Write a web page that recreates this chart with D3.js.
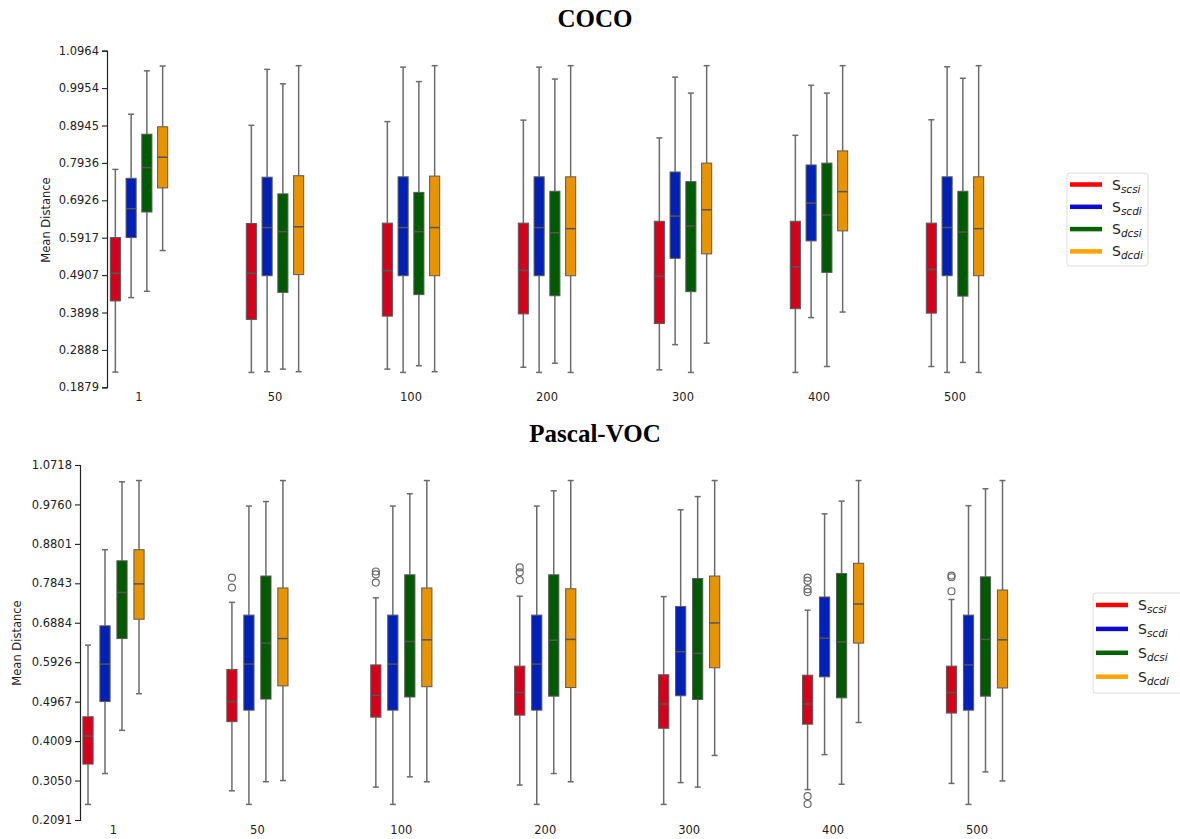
<!DOCTYPE html>
<html>
<head>
<meta charset="utf-8">
<script src="https://cdn.jsdelivr.net/npm/d3@7"></script>
<style>
  body { margin: 0; background: #fff; }
  svg { display: block; }
</style>
</head>
<body>
<div id="chart"></div>
<script>
// categories and series
const categories = ["1", "50", "100", "200", "300", "400", "500"];
const series = ["scsi", "scdi", "dcsi", "dcdi"];

// tick labels
const cocoTicks = [0.1879, 0.2888, 0.3898, 0.4907, 0.5917, 0.6926, 0.7936, 0.8945, 0.9954, 1.0964];
const vocTicks = [0.2091, 0.3050, 0.4009, 0.4967, 0.5926, 0.6884, 0.7843, 0.8801, 0.9760, 1.0718];

// box stats per category: [whisker low, q1, median, q3, whisker high]
const cocoScsi = [
  [0.229, 0.421, 0.496, 0.592, 0.776],
  [0.228, 0.371, 0.496, 0.630, 0.895],
  [0.237, 0.380, 0.502, 0.631, 0.905],
  [0.242, 0.386, 0.504, 0.631, 0.909],
  [0.235, 0.360, 0.488, 0.636, 0.861],
  [0.228, 0.400, 0.513, 0.636, 0.868],
  [0.244, 0.388, 0.505, 0.631, 0.910]
];
const cocoScdi = [
  [0.430, 0.592, 0.670, 0.752, 0.925],
  [0.230, 0.489, 0.619, 0.755, 1.046],
  [0.228, 0.489, 0.619, 0.756, 1.052],
  [0.228, 0.489, 0.619, 0.756, 1.052],
  [0.303, 0.536, 0.650, 0.769, 1.025],
  [0.376, 0.583, 0.685, 0.788, 1.003],
  [0.228, 0.489, 0.619, 0.756, 1.053]
];
const cocoDcsi = [
  [0.447, 0.661, 0.781, 0.871, 1.042],
  [0.237, 0.444, 0.608, 0.710, 1.007],
  [0.246, 0.438, 0.608, 0.714, 1.013],
  [0.253, 0.435, 0.605, 0.717, 1.020],
  [0.228, 0.446, 0.623, 0.743, 0.982],
  [0.244, 0.498, 0.653, 0.793, 0.982],
  [0.255, 0.434, 0.607, 0.717, 1.022]
];
const cocoDcdi = [
  [0.557, 0.726, 0.809, 0.891, 1.055],
  [0.230, 0.492, 0.621, 0.759, 1.056],
  [0.230, 0.489, 0.619, 0.758, 1.056],
  [0.228, 0.489, 0.616, 0.756, 1.056],
  [0.307, 0.548, 0.667, 0.793, 1.056],
  [0.391, 0.610, 0.716, 0.826, 1.056],
  [0.228, 0.489, 0.616, 0.756, 1.056]
];

const vocScsi = [
  [0.247, 0.345, 0.413, 0.460, 0.634],
  [0.280, 0.448, 0.497, 0.575, 0.738],
  [0.289, 0.459, 0.512, 0.586, 0.749],
  [0.294, 0.464, 0.519, 0.583, 0.753],
  [0.247, 0.432, 0.491, 0.562, 0.752],
  [0.283, 0.442, 0.491, 0.561, 0.719],
  [0.298, 0.469, 0.519, 0.583, 0.745]
];
const vocScdi = [
  [0.322, 0.497, 0.588, 0.681, 0.866],
  [0.247, 0.476, 0.588, 0.707, 0.972],
  [0.247, 0.476, 0.588, 0.707, 0.972],
  [0.247, 0.476, 0.588, 0.707, 0.972],
  [0.300, 0.511, 0.618, 0.728, 0.963],
  [0.368, 0.557, 0.651, 0.751, 0.953],
  [0.247, 0.476, 0.586, 0.707, 0.973]
];
const vocDcsi = [
  [0.427, 0.650, 0.762, 0.839, 1.031],
  [0.302, 0.503, 0.639, 0.802, 0.983],
  [0.314, 0.508, 0.643, 0.805, 1.002],
  [0.322, 0.510, 0.646, 0.805, 1.009],
  [0.289, 0.502, 0.614, 0.796, 0.995],
  [0.296, 0.506, 0.642, 0.808, 0.984],
  [0.326, 0.510, 0.648, 0.800, 1.014]
];
const vocDcdi = [
  [0.516, 0.697, 0.783, 0.866, 1.034],
  [0.305, 0.535, 0.650, 0.773, 1.034],
  [0.302, 0.533, 0.647, 0.773, 1.034],
  [0.302, 0.531, 0.648, 0.771, 1.034],
  [0.366, 0.579, 0.688, 0.802, 1.034],
  [0.446, 0.639, 0.734, 0.833, 1.034],
  [0.304, 0.530, 0.647, 0.768, 1.034]
];

// outliers: [category, series, value]
const vocOutliers = [
  ["50", "scsi", 0.798], ["50", "scsi", 0.774],
  ["100", "scsi", 0.813], ["100", "scsi", 0.806], ["100", "scsi", 0.786],
  ["200", "scsi", 0.823], ["200", "scsi", 0.811], ["200", "scsi", 0.792],
  ["400", "scsi", 0.798], ["400", "scsi", 0.790], ["400", "scsi", 0.770], ["400", "scsi", 0.763],
  ["400", "scsi", 0.267], ["400", "scsi", 0.248],
  ["500", "scsi", 0.803], ["500", "scsi", 0.799], ["500", "scsi", 0.765]
];

const boxColor = { scsi: "#d7001a", scdi: "#0020b8", dcsi: "#005a00", dcdi: "#e89400" };
const legendColor = { scsi: "#ff0000", scdi: "#0a0ad0", dcsi: "#006400", dcdi: "#ffa500" };

const width = 1180;
const height = 839;

const svg = d3.select("#chart")
  .append("svg")
  .attr("width", width)
  .attr("height", height)
  .style("font-family", "'DejaVu Sans', sans-serif");

function drawPanel(p) {
  const g = svg.append("g");
  const statsBySeries = { scsi: p.scsi, scdi: p.scdi, dcsi: p.dcsi, dcdi: p.dcdi };

  // title
  g.append("text")
    .attr("x", 595)
    .attr("y", p.titleY)
    .attr("text-anchor", "middle")
    .attr("font-family", "'Liberation Serif', 'Times New Roman', serif")
    .attr("font-weight", "bold")
    .attr("font-size", 25)
    .text(p.title);

  const y = d3.scaleLinear()
    .domain([p.ticks[0], p.ticks[p.ticks.length - 1]])
    .range([p.yBottom, p.yTop]);

  const x = d3.scalePoint()
    .domain(categories)
    .range([p.xFirst, p.xLast]);

  const hue = d3.scaleBand()
    .domain(series)
    .range([-p.dodge, p.dodge])
    .paddingInner(p.pad);

  // y axis
  const yAxis = g.append("g")
    .attr("transform", `translate(${p.axisX},0)`)
    .call(d3.axisLeft(y)
      .tickValues(p.ticks)
      .tickFormat(d3.format(".4f"))
      .tickSize(5)
      .tickPadding(3));
  yAxis.select(".domain").attr("stroke", "#222").attr("stroke-width", 1.2);
  yAxis.selectAll(".tick line").attr("stroke", "#222").attr("stroke-width", 1.1);
  yAxis.selectAll(".tick text")
    .attr("font-size", 11.5)
    .attr("fill", "#222")
    .attr("font-family", "'DejaVu Sans', sans-serif");

  g.append("text")
    .attr("transform", `translate(${p.labelX},${p.labelY}) rotate(-90)`)
    .attr("text-anchor", "middle")
    .attr("font-size", 11.5)
    .attr("fill", "#222")
    .text("Mean Distance");

  // x labels (no axis line)
  g.append("g")
    .selectAll("text")
    .data(categories)
    .join("text")
    .attr("x", d => x(d))
    .attr("y", p.xLabelY)
    .attr("text-anchor", "middle")
    .attr("font-size", 11.5)
    .attr("fill", "#222")
    .text(d => d);

  // boxes
  const boxes = [];
  categories.forEach((c, i) => {
    series.forEach(s => {
      const st = statsBySeries[s][i];
      boxes.push({ c, s, lo: st[0], q1: st[1], med: st[2], q3: st[3], hi: st[4] });
    });
  });

  const bw = hue.bandwidth();
  const box = g.append("g")
    .selectAll("g")
    .data(boxes)
    .join("g")
    .attr("transform", d => `translate(${x(d.c) + hue(d.s)},0)`);

  box.append("line")
    .attr("x1", bw / 2).attr("x2", bw / 2)
    .attr("y1", d => y(d.hi)).attr("y2", d => y(d.q3))
    .attr("stroke", "#6b6b6b").attr("stroke-width", 1.5);
  box.append("line")
    .attr("x1", bw / 2).attr("x2", bw / 2)
    .attr("y1", d => y(d.q1)).attr("y2", d => y(d.lo))
    .attr("stroke", "#6b6b6b").attr("stroke-width", 1.5);
  box.append("line")
    .attr("x1", bw / 2 - 3).attr("x2", bw / 2 + 3)
    .attr("y1", d => y(d.hi)).attr("y2", d => y(d.hi))
    .attr("stroke", "#6b6b6b").attr("stroke-width", 1.5);
  box.append("line")
    .attr("x1", bw / 2 - 3).attr("x2", bw / 2 + 3)
    .attr("y1", d => y(d.lo)).attr("y2", d => y(d.lo))
    .attr("stroke", "#6b6b6b").attr("stroke-width", 1.5);

  box.append("rect")
    .attr("x", 0)
    .attr("width", bw)
    .attr("y", d => y(d.q3))
    .attr("height", d => y(d.q1) - y(d.q3))
    .attr("fill", d => boxColor[d.s])
    .attr("stroke", "#5a5a5a")
    .attr("stroke-width", 1);

  box.append("line")
    .attr("x1", 0).attr("x2", bw)
    .attr("y1", d => y(d.med)).attr("y2", d => y(d.med))
    .attr("stroke", "#555").attr("stroke-width", 1.5);

  // outliers
  g.append("g")
    .selectAll("circle")
    .data(p.outliers)
    .join("circle")
    .attr("cx", d => x(d[0]) + hue(d[1]) + bw / 2)
    .attr("cy", d => y(d[2]))
    .attr("r", 3.5)
    .attr("fill", "none")
    .attr("stroke", "#6b6b6b")
    .attr("stroke-width", 1.2);

  // legend
  const lg = g.append("g")
    .attr("transform", `translate(${p.legendX},${p.legendY})`);
  lg.append("rect")
    .attr("width", p.legendW)
    .attr("height", p.legendH)
    .attr("rx", 3)
    .attr("fill", "#fff")
    .attr("stroke", "#dcdcdc");
  const item = lg.selectAll("g.item")
    .data(series)
    .join("g")
    .attr("class", "item")
    .attr("transform", (d, i) => `translate(0,${p.legendFirst + i * p.legendStep})`);
  item.append("line")
    .attr("x1", 3).attr("x2", 35)
    .attr("stroke", d => legendColor[d])
    .attr("stroke-width", 4.5);
  const lt = item.append("text")
    .attr("x", 45)
    .attr("y", 5)
    .attr("font-size", 14)
    .attr("fill", "#222");
  lt.append("tspan").text("S");
  lt.append("tspan")
    .attr("dy", 3)
    .attr("font-size", 10.5)
    .attr("font-style", "italic")
    .text(d => d);
}

drawPanel({
  title: "COCO", titleY: 27,
  ticks: cocoTicks, yBottom: 387.3, yTop: 50.7,
  axisX: 107, xFirst: 139, xLast: 955, dodge: 28.7, pad: 0.36,
  labelX: 50, labelY: 220, xLabelY: 401,
  scsi: cocoScsi, scdi: cocoScdi, dcsi: cocoDcsi, dcdi: cocoDcdi,
  outliers: [],
  legendX: 1067, legendY: 173, legendW: 81, legendH: 93,
  legendFirst: 11.5, legendStep: 22.3
});

drawPanel({
  title: "Pascal-VOC", titleY: 442,
  ticks: vocTicks, yBottom: 820, yTop: 465,
  axisX: 80, xFirst: 113.5, xLast: 977, dodge: 30.6, pad: 0.40,
  labelX: 21, labelY: 643, xLabelY: 834,
  scsi: vocScsi, scdi: vocScdi, dcsi: vocDcsi, dcdi: vocDcdi,
  outliers: vocOutliers,
  legendX: 1093, legendY: 593, legendW: 92, legendH: 100,
  legendFirst: 12, legendStep: 23.9
});
</script>
</body>
</html>
